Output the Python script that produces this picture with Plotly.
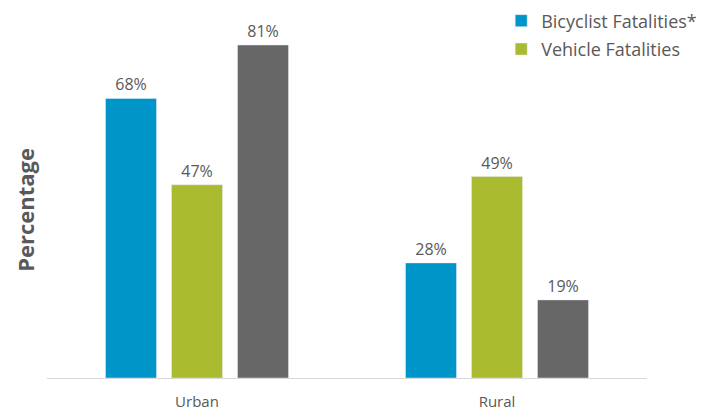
import plotly.graph_objects as go

# data
categories = ["Urban", "Rural"]
bicyclist = [68, 28]
vehicle = [47, 49]
population = [81, 19]

series_names = ["Bicyclist Fatalities*", "Vehicle Fatalities", "Population"]
colors = ["#0095C9", "#ABBB2F", "#676767"]
values = [bicyclist, vehicle, population]
in_legend = [True, True, False]

fig = go.Figure()
for name, vals, col, show in zip(series_names, values, colors, in_legend):
    fig.add_trace(go.Bar(
        x=categories, y=vals, name=name, marker_color=col,
        legendgroup=name,
        text=[f"{v}%" for v in vals], textposition="outside",
        textfont=dict(size=16, color="#595959"), cliponaxis=False,
        showlegend=show,
    ))

# the page body adds an 8px margin, so the figure is sized 8px smaller
fig.update_layout(
    width=702, height=407,
    margin=dict(l=39, r=63, t=0, b=37, autoexpand=False),
    paper_bgcolor="white", plot_bgcolor="white",
    font=dict(family="Open Sans", color="#595959"),
    barmode="group", bargap=0.34, bargroupgap=0.227,
    legend=dict(x=0.757, y=1.015, xanchor="left", yanchor="top",
                font=dict(size=18, color="#595959"), bgcolor="rgba(0,0,0,0)",
                traceorder="grouped", tracegroupgap=2),
    xaxis=dict(showline=True, linecolor="#D9D9D9", linewidth=1, ticks="",
               ticklabelstandoff=10,
               tickfont=dict(size=15, color="#595959")),
    yaxis=dict(range=[0, 90], visible=False),
)

fig.add_annotation(text="<b>Percentage</b>", textangle=-90,
                   xref="paper", yref="paper", x=-0.037, y=0.454,
                   xanchor="center", yanchor="middle", showarrow=False,
                   font=dict(size=22, color="#595959"))

fig.write_html("out.html")
